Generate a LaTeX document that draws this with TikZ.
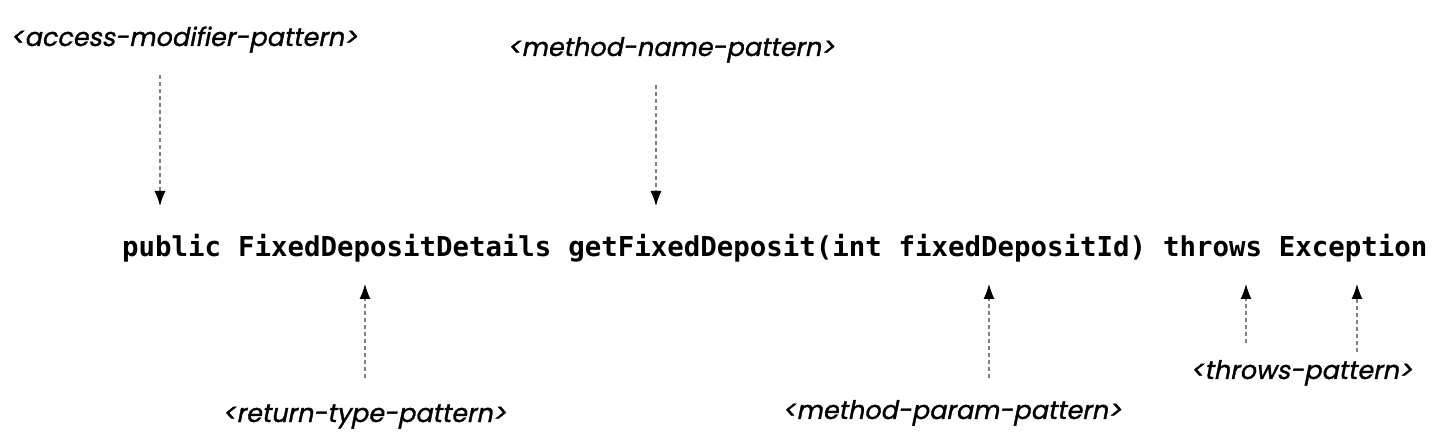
\documentclass[tikz,border=0pt]{standalone}
\usepackage{fontspec}
\usetikzlibrary{positioning,arrows.meta}
\newfontfamily\codefont{DejaVu Sans Mono}
\newfontfamily\patternfont[FakeSlant=0.2,FakeBold=1.2]{Poppins}

\begin{document}
\begin{tikzpicture}[x=1pt,y=-1pt,
    code/.style={inner sep=0pt,font=\codefont\bfseries\fontsize{27.4}{30}\selectfont},
    pattern/.style={inner sep=0pt,anchor=base west,font=\patternfont\fontsize{25.5}{30}\selectfont},
    pointer/.style={draw=black!50,line width=1.1pt,dash pattern=on 4pt off 3pt,-{Latex[length=15pt,width=11pt,black]}},
    down/.style={pointer,shorten >=51pt},
    up/.style={pointer,shorten >=27pt}]
    \useasboundingbox (0,0) rectangle (1444,446);

    % the method signature
    \node[code,anchor=base west] (pub) at (122,257) {public};
    \node[code,base right=16.5pt of pub] (type) {FixedDepositDetails};
    \node[code,base right=16.5pt of type] (name) {getFixedDeposit(int};
    \node[code,base right=16.5pt of name] (param) {fixedDepositId)};
    \node[code,base right=16.5pt of param] (throws) {throws};
    \node[code,base right=16.5pt of throws] (exc) {Exception};

    % the patterns
    \node[pattern] (accesslbl) at (10,46) {<access-modifier-pattern>};
    \node[pattern] (namelbl) at (507,56) {<method-name-pattern>};
    \node[pattern] (typelbl) at (222,422) {<return-type-pattern>};
    \node[pattern] (paramlbl) at (782,419) {<method-param-pattern>};
    \node[pattern] (throwslbl) at (1190,379) {<throws-pattern>};

    \coordinate (accessend) at (160,75);
    \coordinate (nameend) at (656,85);
    \coordinate (typeend) at (365,378);
    \coordinate (paramend) at (989,378);
    \coordinate (throwsend) at (1246,343);
    \coordinate (excend) at (1357,352);

    \draw[down] (accessend) -- (accessend |- pub.base);
    \draw[down] (nameend) -- (nameend |- name.base);
    \draw[up] (typeend) -- (typeend |- type.base);
    \draw[up] (paramend) -- (paramend |- param.base);
    \draw[up] (throwsend) -- (throwsend |- throws.base);
    \draw[up] (excend) -- (excend |- exc.base);
\end{tikzpicture}
\end{document}
